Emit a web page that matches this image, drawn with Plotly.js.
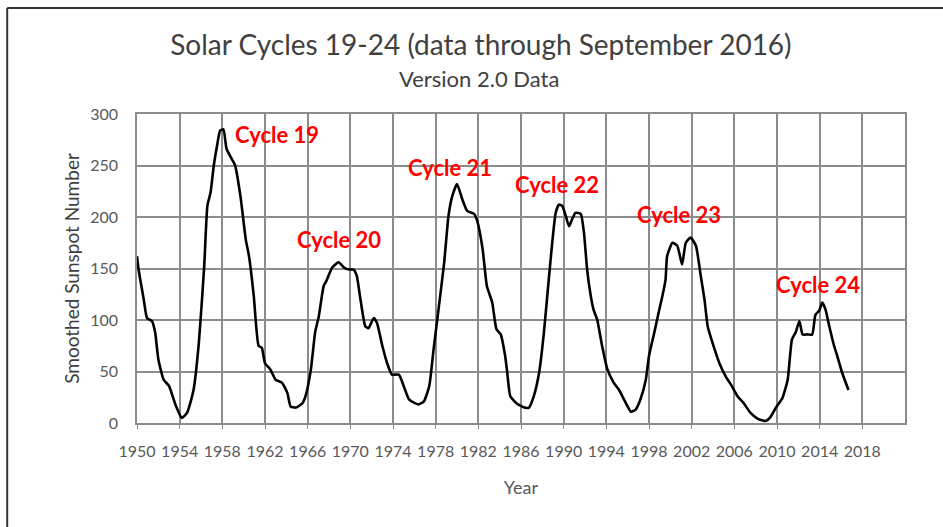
<!DOCTYPE html>
<html>
<head>
<meta charset="utf-8">
<script src="https://cdn.plot.ly/plotly-3.0.1.min.js"></script>
<style>html,body{margin:0;padding:0;background:#fff;}#chart{width:943px;height:527px;}</style>
</head>
<body>
<div id="chart"></div>
<script>
// Smoothed sunspot number (Version 2.0)
const years = [
 1950.0,1950.15,1950.63,1950.94,1951.4,1951.7,1952.0,1952.5,1953.0,1953.6,1954.2,1954.7,1955.3,1955.8,
 1956.3,1956.6,1956.9,1957.2,1957.5,1957.8,1958.1,1958.4,1958.9,1959.2,1959.7,1960.2,1960.5,1960.95,
 1961.4,1961.7,1962.0,1962.5,1963.0,1963.6,1964.1,1964.4,1964.9,1965.5,1965.8,1966.3,1966.7,1967.05,
 1967.5,1967.8,1968.3,1968.9,1969.4,1969.9,1970.3,1970.6,1970.95,1971.4,1971.7,1972.2,1972.5,1973.0,
 1973.45,1973.9,1974.55,1975.0,1975.5,1976.1,1976.4,1976.9,1977.4,1977.8,1978.3,1978.8,1979.2,1979.55,
 1980.0,1980.5,1980.95,1981.6,1981.9,1982.4,1982.8,1983.3,1983.7,1984.1,1984.5,1984.7,1985.0,1985.6,
 1986.3,1986.75,1987.2,1987.7,1988.15,1988.6,1988.9,1989.25,1989.55,1989.85,1990.2,1990.5,1990.8,1991.1,
 1991.6,1991.9,1992.2,1992.5,1992.8,1993.15,1993.6,1994.1,1994.7,1995.2,1995.65,1996.3,1996.75,1997.2,
 1997.7,1998.0,1998.5,1998.9,1999.25,1999.55,1999.7,2000.2,2000.65,2001.1,2001.45,2001.9,2002.4,2002.85,
 2003.2,2003.5,2003.95,2004.6,2005.2,2005.7,2006.3,2006.9,2007.5,2008.2,2008.95,2009.4,2009.9,2010.5,
 2011.0,2011.4,2011.75,2012.1,2012.4,2012.85,2013.3,2013.6,2013.95,2014.25,2014.55,2014.9,2015.35,2015.65,
 2016.1,2016.7
];
const sunspots = [
 162,149,120,102,99,88,62,42,36,18,5,10,32,78,
 152,211,224,250,269,284,285,266,256,250,220,178,162,123,
 75,73,58,52,42,39,29,16,15,19,26,52,88,104,
 133,139,151,156,151,149,149,143,120,94,92,102,97,75,
 58,47,47,36,23,19,18,21,36,71,113,156,201,220,
 232,217,206,203,196,169,133,117,91,86,66,50,26,19,
 15,15,26,49,88,139,172,204,212,211,201,191,198,204,
 203,185,149,126,110,100,75,52,39,32,23,11,13,23,
 42,65,88,107,123,139,162,175,172,154,175,180,172,143,
 120,94,78,58,45,37,26,19,10,4,2,6,15,24,
 42,81,88,99,86,86,86,105,109,117,110,94,75,65,
 49,32
];
const tickYears = [1950,1954,1958,1962,1966,1970,1974,1978,1982,1986,1990,1994,1998,2002,2006,2010,2014,2018];
const tickLabels = tickYears.map(String);
const cycleNames = ["Cycle 19","Cycle 20","Cycle 21","Cycle 22","Cycle 23","Cycle 24"];
const cycleLabelX = [1963.1,1968.9,1979.3,1989.35,2000.8,2013.85];
const cycleLabelY = [280,178,248,232,202,134];

const font = "Lato, 'Open Sans', sans-serif";
const grid = "#8c8c8c";

const trace = {
  x: years, y: sunspots, type: "scatter", mode: "lines",
  line: {color: "#000000", width: 2.6, shape: "spline", smoothing: 0.5},
  hoverinfo: "x+y", showlegend: false
};

const annotations = cycleNames.map((t, i) => ({
  x: cycleLabelX[i], y: cycleLabelY[i], xref: "x", yref: "y",
  text: "<b>" + t + "</b>", showarrow: false,
  font: {family: font, size: 22, color: "#ff0000"}
}));

// subtitle position: pixel (479, 78) -> paper coords of the plot area
const plotL = 137, plotW = 768, plotB = 423, plotH = 309;
annotations.push({
  x: (479 - plotL) / plotW, y: (plotB - 78) / plotH, xref: "paper", yref: "paper", showarrow: false,
  text: "Version 2.0 Data", yanchor: "middle", xanchor: "center",
  font: {family: font, size: 22, color: "#404040"}
});

const shapes = [
  {type: "line", xref: "paper", yref: "paper", x0: -0.169, x1: -0.169, y0: -0.4, y1: 1.343,
   line: {color: "#333333", width: 2}},
  {type: "line", xref: "paper", yref: "paper", x0: -0.169, x1: 1.1, y0: 1.343, y1: 1.343,
   line: {color: "#333333", width: 2}}
];

const layout = {
  width: 943, height: 527,
  margin: {l: 137, r: 38, t: 114, b: 104},
  paper_bgcolor: "#ffffff", plot_bgcolor: "#ffffff",
  font: {family: font, color: "#595959"},
  title: {
    text: "Solar Cycles 19-24 (data through September 2016)",
    font: {family: font, size: 28, color: "#404040"},
    x: 0.51, xanchor: "center", xref: "container",
    y: 1 - 45 / 527, yanchor: "middle", yref: "container"
  },
  xaxis: {
    range: [1950, 2022], tickmode: "array", tickvals: tickYears, ticktext: tickLabels,
    showgrid: true, gridcolor: grid, gridwidth: 1.5,
    showline: true, linecolor: grid, linewidth: 1.5, mirror: true,
    ticks: "outside", ticklen: 4, tickcolor: grid,
    zeroline: false, fixedrange: true,
    tickfont: {family: font, size: 16, color: "#595959"},
    ticklabelstandoff: 9,
    title: {text: "Year", font: {family: font, size: 18, color: "#595959"}, standoff: 22}
  },
  yaxis: {
    range: [0, 300], dtick: 50, tick0: 0,
    showgrid: true, gridcolor: grid, gridwidth: 1.5,
    showline: true, linecolor: grid, linewidth: 1.5, mirror: true,
    ticks: "", zeroline: false, fixedrange: true,
    tickfont: {family: font, size: 16, color: "#595959"},
    ticklabelstandoff: 14,
    title: {text: "Smoothed Sunspot Number", font: {family: font, size: 19, color: "#404040"}, standoff: 6}
  },
  annotations: annotations,
  shapes: shapes
};

Plotly.newPlot("chart", [trace], layout, {displayModeBar: false});
</script>
</body>
</html>
